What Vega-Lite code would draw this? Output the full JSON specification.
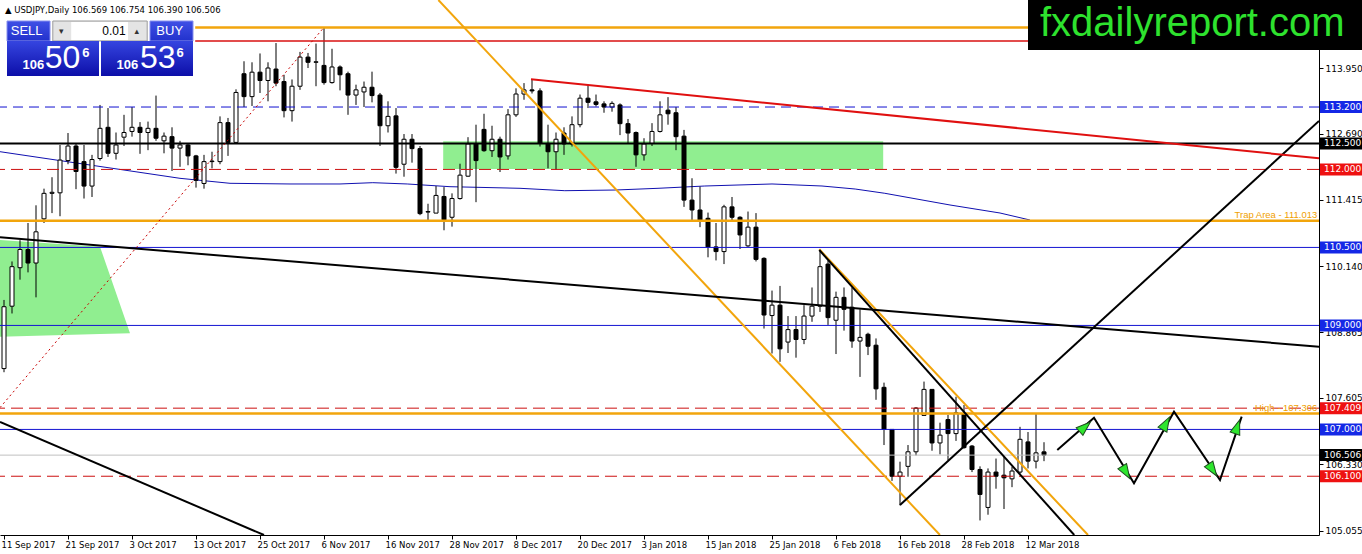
{
"$schema":"https://vega.github.io/schema/vega-lite/v6.json",
"width":1319,"height":535,
"autosize":{"type":"none"},
"padding":{"left":0,"top":0,"right":43,"bottom":19},
"background":"white",
"config":{"view":{"stroke":null},"axis":{"grid":false,"title":null},"scale":{"continuousPadding":0}},
"datasets":{
"candles":[
{"i":0,"o":108.17,"h":109.49,"l":108.10,"c":109.36},
{"i":1,"o":109.37,"h":110.23,"l":109.23,"c":110.13},
{"i":2,"o":110.11,"h":110.64,"l":109.88,"c":110.46},
{"i":3,"o":110.46,"h":110.97,"l":110.02,"c":110.20},
{"i":4,"o":110.20,"h":111.31,"l":109.54,"c":110.80},
{"i":5,"o":111.05,"h":111.63,"l":110.97,"c":111.54},
{"i":6,"o":111.54,"h":111.85,"l":111.16,"c":111.56},
{"i":7,"o":111.55,"h":112.47,"l":111.10,"c":112.18},
{"i":8,"o":112.17,"h":112.70,"l":112.10,"c":112.45},
{"i":9,"o":112.45,"h":112.50,"l":111.62,"c":111.96},
{"i":10,"o":112.15,"h":112.47,"l":111.44,"c":111.68},
{"i":11,"o":111.68,"h":112.28,"l":111.47,"c":112.19},
{"i":12,"o":112.21,"h":113.24,"l":112.17,"c":112.79},
{"i":13,"o":112.81,"h":113.18,"l":112.24,"c":112.31},
{"i":14,"o":112.31,"h":112.71,"l":112.19,"c":112.47},
{"i":15,"o":112.62,"h":113.05,"l":112.45,"c":112.71},
{"i":16,"o":112.73,"h":113.20,"l":112.63,"c":112.81},
{"i":17,"o":112.81,"h":112.91,"l":112.30,"c":112.71},
{"i":18,"o":112.71,"h":112.92,"l":112.37,"c":112.79},
{"i":19,"o":112.79,"h":113.42,"l":112.55,"c":112.60},
{"i":20,"o":112.55,"h":112.71,"l":112.31,"c":112.64},
{"i":21,"o":112.63,"h":112.81,"l":111.97,"c":112.41},
{"i":22,"o":112.41,"h":112.55,"l":112.05,"c":112.47},
{"i":23,"o":112.47,"h":112.49,"l":112.08,"c":112.26},
{"i":24,"o":112.26,"h":112.28,"l":111.65,"c":111.79},
{"i":25,"o":111.73,"h":112.28,"l":111.63,"c":112.15},
{"i":26,"o":112.15,"h":112.34,"l":112.02,"c":112.16},
{"i":27,"o":112.15,"h":113.02,"l":112.10,"c":112.90},
{"i":28,"o":112.90,"h":112.99,"l":112.26,"c":112.52},
{"i":29,"o":112.52,"h":113.54,"l":112.50,"c":113.48},
{"i":30,"o":113.84,"h":114.08,"l":113.20,"c":113.40},
{"i":31,"o":113.40,"h":114.06,"l":113.22,"c":113.87},
{"i":32,"o":113.87,"h":114.23,"l":113.47,"c":113.71},
{"i":33,"o":113.71,"h":114.06,"l":113.31,"c":113.95},
{"i":34,"o":113.93,"h":114.43,"l":113.60,"c":113.66},
{"i":35,"o":113.69,"h":113.82,"l":113.00,"c":113.13},
{"i":36,"o":113.13,"h":113.73,"l":112.92,"c":113.60},
{"i":37,"o":113.60,"h":114.26,"l":113.53,"c":114.16},
{"i":38,"o":114.16,"h":114.24,"l":113.95,"c":114.06},
{"i":39,"o":114.06,"h":114.42,"l":113.60,"c":114.07},
{"i":40,"o":114.00,"h":114.72,"l":113.63,"c":113.67},
{"i":41,"o":113.67,"h":114.32,"l":113.65,"c":113.97},
{"i":42,"o":113.97,"h":114.00,"l":113.52,"c":113.82},
{"i":43,"o":113.84,"h":113.88,"l":113.05,"c":113.43},
{"i":44,"o":113.43,"h":113.63,"l":113.24,"c":113.53},
{"i":45,"o":113.49,"h":113.69,"l":113.20,"c":113.58},
{"i":46,"o":113.58,"h":113.88,"l":113.29,"c":113.42},
{"i":47,"o":113.43,"h":113.47,"l":112.45,"c":112.84},
{"i":48,"o":112.84,"h":113.31,"l":112.71,"c":113.02},
{"i":49,"o":113.03,"h":113.18,"l":111.92,"c":112.04},
{"i":50,"o":112.10,"h":112.68,"l":111.86,"c":112.58},
{"i":51,"o":112.58,"h":112.68,"l":112.13,"c":112.40},
{"i":52,"o":112.40,"h":112.45,"l":111.12,"c":111.15},
{"i":53,"o":111.18,"h":111.34,"l":111.02,"c":111.19},
{"i":54,"o":111.16,"h":111.68,"l":111.16,"c":111.50},
{"i":55,"o":111.48,"h":111.66,"l":110.83,"c":111.03},
{"i":56,"o":111.08,"h":111.54,"l":110.90,"c":111.44},
{"i":57,"o":111.44,"h":112.11,"l":111.42,"c":111.89},
{"i":58,"o":111.87,"h":112.62,"l":111.86,"c":112.49},
{"i":59,"o":112.49,"h":112.86,"l":111.37,"c":112.17},
{"i":60,"o":112.77,"h":113.07,"l":112.34,"c":112.36},
{"i":61,"o":112.36,"h":112.84,"l":112.24,"c":112.58},
{"i":62,"o":112.58,"h":112.63,"l":111.95,"c":112.24},
{"i":63,"o":112.26,"h":113.16,"l":112.19,"c":113.05},
{"i":64,"o":113.05,"h":113.56,"l":113.01,"c":113.45},
{"i":65,"o":113.45,"h":113.66,"l":113.34,"c":113.53},
{"i":66,"o":113.53,"h":113.72,"l":113.46,"c":113.51},
{"i":67,"o":113.51,"h":113.56,"l":112.44,"c":112.50},
{"i":68,"o":112.50,"h":112.86,"l":112.02,"c":112.34},
{"i":69,"o":112.34,"h":112.71,"l":111.99,"c":112.58},
{"i":70,"o":112.70,"h":112.81,"l":112.28,"c":112.49},
{"i":71,"o":112.49,"h":113.02,"l":112.44,"c":112.86},
{"i":72,"o":112.86,"h":113.44,"l":112.81,"c":113.37},
{"i":73,"o":113.37,"h":113.63,"l":113.18,"c":113.29},
{"i":74,"o":113.30,"h":113.44,"l":113.21,"c":113.25},
{"i":75,"o":113.26,"h":113.31,"l":113.09,"c":113.20},
{"i":76,"o":113.20,"h":113.31,"l":113.11,"c":113.27},
{"i":77,"o":113.24,"h":113.27,"l":112.66,"c":112.88},
{"i":78,"o":112.88,"h":112.97,"l":112.49,"c":112.70},
{"i":79,"o":112.71,"h":112.73,"l":112.05,"c":112.28},
{"i":80,"o":112.28,"h":112.60,"l":112.17,"c":112.49},
{"i":81,"o":112.50,"h":112.89,"l":112.45,"c":112.73},
{"i":82,"o":112.73,"h":113.31,"l":112.71,"c":113.05},
{"i":83,"o":113.14,"h":113.39,"l":112.86,"c":113.07},
{"i":84,"o":113.09,"h":113.20,"l":112.37,"c":112.63},
{"i":85,"o":112.64,"h":112.76,"l":111.28,"c":111.41},
{"i":86,"o":111.41,"h":111.83,"l":111.02,"c":111.22},
{"i":87,"o":111.22,"h":111.67,"l":110.89,"c":111.02},
{"i":88,"o":111.06,"h":111.17,"l":110.31,"c":110.51},
{"i":89,"o":110.51,"h":110.97,"l":110.25,"c":110.42},
{"i":90,"o":110.42,"h":111.32,"l":110.18,"c":111.28},
{"i":91,"o":111.28,"h":111.47,"l":111.02,"c":111.08},
{"i":92,"o":111.08,"h":111.10,"l":110.47,"c":110.74},
{"i":93,"o":110.53,"h":111.19,"l":110.51,"c":110.89},
{"i":94,"o":110.89,"h":111.16,"l":110.23,"c":110.27},
{"i":95,"o":110.29,"h":110.31,"l":108.94,"c":109.20},
{"i":96,"o":109.19,"h":109.67,"l":108.46,"c":109.39},
{"i":97,"o":109.39,"h":109.76,"l":108.30,"c":108.55},
{"i":98,"o":108.68,"h":109.18,"l":108.47,"c":108.92},
{"i":99,"o":108.92,"h":109.18,"l":108.38,"c":108.73},
{"i":100,"o":108.73,"h":109.39,"l":108.64,"c":109.18},
{"i":101,"o":109.18,"h":109.73,"l":109.07,"c":109.37},
{"i":102,"o":109.37,"h":110.45,"l":109.26,"c":110.13},
{"i":103,"o":110.18,"h":110.25,"l":109.01,"c":109.15},
{"i":104,"o":109.10,"h":109.65,"l":108.45,"c":109.54},
{"i":105,"o":109.54,"h":109.73,"l":108.90,"c":109.31},
{"i":106,"o":109.35,"h":109.73,"l":108.57,"c":108.70},
{"i":107,"o":108.70,"h":109.31,"l":108.01,"c":108.77},
{"i":108,"o":108.83,"h":108.86,"l":108.43,"c":108.60},
{"i":109,"o":108.62,"h":108.75,"l":107.57,"c":107.78},
{"i":110,"o":107.81,"h":107.90,"l":106.70,"c":107.00},
{"i":111,"o":107.00,"h":107.00,"l":106.01,"c":106.10},
{"i":112,"o":106.10,"h":106.38,"l":105.54,"c":106.18},
{"i":113,"o":106.29,"h":106.70,"l":106.09,"c":106.57},
{"i":114,"o":106.57,"h":107.43,"l":106.50,"c":107.41},
{"i":115,"o":107.27,"h":107.92,"l":107.26,"c":107.77},
{"i":116,"o":107.77,"h":107.77,"l":106.59,"c":106.74},
{"i":117,"o":106.74,"h":107.13,"l":106.52,"c":106.89},
{"i":118,"o":107.19,"h":107.28,"l":106.41,"c":106.92},
{"i":119,"o":106.92,"h":107.63,"l":106.78,"c":107.32},
{"i":120,"o":107.30,"h":107.47,"l":106.63,"c":106.65},
{"i":121,"o":106.68,"h":106.70,"l":106.18,"c":106.23},
{"i":122,"o":106.23,"h":106.29,"l":105.25,"c":105.75},
{"i":123,"o":105.50,"h":106.25,"l":105.36,"c":106.18},
{"i":124,"o":106.18,"h":106.44,"l":105.86,"c":106.10},
{"i":125,"o":106.12,"h":106.47,"l":105.47,"c":106.07},
{"i":126,"o":106.05,"h":106.28,"l":105.89,"c":106.20},
{"i":127,"o":106.18,"h":107.05,"l":106.15,"c":106.81},
{"i":128,"o":106.76,"h":106.95,"l":106.25,"c":106.39},
{"i":129,"o":106.39,"h":107.306,"l":106.25,"c":106.55},
{"i":130,"o":106.569,"h":106.754,"l":106.390,"c":106.506}
],
"ma":[{"i":-0.5,"p":112.341},{"i":7,"p":112.17},{"i":14.5,"p":112.0},{"i":22,"p":111.829},{"i":28.25,"p":111.733},{"i":35.75,"p":111.72},{"i":42,"p":111.72},{"i":46.1,"p":111.745},{"i":50.4,"p":111.72},{"i":55.75,"p":111.668},{"i":64.5,"p":111.637},{"i":70.1,"p":111.591},{"i":76.4,"p":111.604},{"i":81.75,"p":111.637},{"i":87.6,"p":111.681},{"i":96,"p":111.72},{"i":102.25,"p":111.681},{"i":106.4,"p":111.623},{"i":110.1,"p":111.541},{"i":118.25,"p":111.316},{"i":124.5,"p":111.162},{"i":128.25,"p":111.027}],
"greenPoly":[{"i":-0.5,"top":110.643,"bot":108.783},{"i":12,"top":110.514,"bot":108.833},{"i":15.75,"top":108.848,"bot":108.848}],
"greenRect":[{"i1":54.9,"i2":109.9,"p1":112.54,"p2":112.01}],
"lvBlueDash":[{"p":113.2}],
"lvBlack":[{"p":112.5}],
"lvRedDash":[{"p":112.0},{"p":107.409},{"p":106.1}],
"lvOrange":[{"p":111.013},{"p":107.306}],
"lvBlue":[{"p":110.5},{"p":109.0},{"p":107.0}],
"lvGray":[{"p":106.506}],
"topOrange":[{"i1":23.9,"i2":164.375,"p":114.73}],
"topRed":[{"i1":23.9,"i2":164.375,"p":114.47}],
"orangeDiag":[{"seg":1,"i":54.3,"p":115.258},{"seg":1,"i":116.99,"p":104.97},{"seg":2,"i":101.91,"p":110.464},{"seg":2,"i":135.5,"p":104.97}],
"blackDiag":[{"seg":1,"i":101.91,"p":110.45},{"seg":1,"i":133.78,"p":104.97},{"seg":2,"i":112,"p":105.546},{"seg":2,"i":164.375,"p":112.931},{"seg":3,"i":-0.5,"p":110.695},{"seg":3,"i":164.375,"p":108.59},{"seg":4,"i":-0.5,"p":107.143},{"seg":4,"i":32.5,"p":104.97}],
"redDiag":[{"i":65.875,"p":113.733},{"i":164.375,"p":112.214}],
"redDotted":[{"i":-0.5,"p":107.42},{"i":39.9,"p":114.714}],
"zigzag":[{"i":131.66,"p":106.604},{"i":136.25,"p":107.225},{"i":141.25,"p":105.964},{"i":146.25,"p":107.341},{"i":152.0,"p":106.027},{"i":154.71,"p":107.245}],
"arrows":[{"i":135.125,"p":107.052,"dir":48.6},{"i":140.25,"p":106.175,"dir":148.6},{"i":145.25,"p":107.118,"dir":29.2},{"i":151.09,"p":106.22,"dir":146},{"i":154.16,"p":107.052,"dir":18.9}],
"notes":[{"i":164.16,"p":111.114,"t":"Trap Area - 111.013"},{"i":164.16,"p":107.421,"t":"High - 107.306"}],
"header":[{"i":0.125,"p":115.066,"t":"▲ USDJPY,Daily 106.569 106.754 106.390 106.506"}],
"panelCtl":[{"i1":6.1,"i2":17.9,"p1":114.854,"p2":114.47}],
"panelField":[{"i1":8.4,"i2":15.5,"p1":114.835,"p2":114.49}],
"panelBtn":[{"i1":0.375,"i2":5.75,"p1":114.854,"p2":114.47},{"i1":18.25,"i2":23.625,"p1":114.854,"p2":114.47}],
"panelBox":[{"i1":0.375,"i2":11.875,"p1":114.47,"p2":113.796},{"i1":12.125,"i2":23.625,"p1":114.47,"p2":113.796}],
"panelBtnText":[{"i":2.83,"p":114.662,"t":"SELL"},{"i":20.71,"p":114.662,"t":"BUY"}],
"panelFieldText":[{"i":15.2,"p":114.662,"t":"0.01"}],
"panelArrowText":[{"i":7.17,"p":114.662,"t":"▾"},{"i":16.6,"p":114.662,"t":"▴"}],
"priceSmall":[{"i":3.67,"p":114.008,"t":"106"},{"i":15.41,"p":114.008,"t":"106"}],
"priceBig":[{"i":7.31,"p":114.137,"t":"50"},{"i":19.23,"p":114.137,"t":"53"}],
"priceSup":[{"i":10.23,"p":114.248,"t":"6"},{"i":22.02,"p":114.248,"t":"6"}],
"wmBox":[{"i1":128,"i2":169.75,"p1":115.258,"p2":114.296}],
"wmText":[{"i":129.5,"p":114.566,"t":"fxdailyreport.com"}],
"boxBlue":[{"p":113.2},{"p":110.5},{"p":109.0},{"p":107.0}],
"boxBlack":[{"p":112.5},{"p":106.506}],
"boxRed":[{"p":112.0},{"p":107.409},{"p":106.1}]
},
"layer":[
{"data":{"name":"greenPoly"},"mark":{"type":"area","color":"#90ee90","opacity":1},
 "encoding":{
  "x":{"field":"i","type":"quantitative","scale":{"domain":[-0.5,164.375],"nice":false,"zero":false,"padding":0},
   "axis":{"values":[0,8,16,24,32,40,48,56,64,72,80,88,96,104,112,120,128],
    "labelExpr":"['11 Sep 2017','21 Sep 2017','3 Oct 2017','13 Oct 2017','25 Oct 2017','6 Nov 2017','16 Nov 2017','28 Nov 2017','8 Dec 2017','20 Dec 2017','3 Jan 2018','15 Jan 2018','25 Jan 2018','6 Feb 2018','16 Feb 2018','28 Feb 2018','12 Mar 2018'][round(datum.value/8)]",
    "labelAlign":"left","labelBaseline":"top","labelPadding":1,"labelOffset":-3,"labelFont":"DejaVu Sans","labelFontSize":8.5,"labelColor":"#000","tickColor":"#000","tickSize":4,"domainColor":"#000","labelOverlap":false,"labelFlush":false,"labelBound":false,"title":null,"grid":false}},
  "y":{"field":"top","type":"quantitative","scale":{"domain":[104.97,115.258],"nice":false,"zero":false,"padding":0},
   "axis":{"orient":"right","values":[113.95,113.32,112.69,112.06,111.415,110.77,110.14,109.51,108.865,108.235,107.605,106.96,106.33,105.685,105.055],"format":".3f","labelFont":"DejaVu Sans","labelFontSize":9,"labelColor":"#000","tickColor":"#000","tickSize":4,"domainColor":"#000","labelPadding":2,"labelOverlap":false,"labelFlush":false,"labelBound":false,"title":null,"grid":false}},
  "y2":{"field":"bot"}}},
{"data":{"name":"greenRect"},"mark":{"type":"rect","color":"#90ee90"},
 "encoding":{"x":{"field":"i1","type":"quantitative"},"x2":{"field":"i2"},"y":{"field":"p1","type":"quantitative"},"y2":{"field":"p2"}}},
{"data":{"name":"ma"},"mark":{"type":"line","color":"#1010b0","strokeWidth":1,"clip":true},
 "encoding":{"x":{"field":"i","type":"quantitative"},"y":{"field":"p","type":"quantitative"}}},
{"data":{"name":"candles"},"mark":{"type":"rule","color":"#000","strokeWidth":1},
 "encoding":{"x":{"field":"i","type":"quantitative"},"y":{"field":"l","type":"quantitative"},"y2":{"field":"h"}}},
{"data":{"name":"candles"},"mark":{"type":"bar","size":4,"stroke":"#000","strokeWidth":1},
 "encoding":{"x":{"field":"i","type":"quantitative"},"y":{"field":"o","type":"quantitative"},"y2":{"field":"c"},
  "fill":{"condition":{"test":"datum.c >= datum.o","value":"#ffffff"},"value":"#000000"}}},
{"data":{"name":"lvGray"},"mark":{"type":"rule","color":"#c0c0c0","strokeWidth":1},"encoding":{"y":{"field":"p","type":"quantitative"}}},
{"data":{"name":"lvBlueDash"},"mark":{"type":"rule","color":"#1010d0","strokeWidth":1,"strokeDash":[10,6]},"encoding":{"y":{"field":"p","type":"quantitative"}}},
{"data":{"name":"lvBlack"},"mark":{"type":"rule","color":"#000000","strokeWidth":2},"encoding":{"y":{"field":"p","type":"quantitative"}}},
{"data":{"name":"lvRedDash"},"mark":{"type":"rule","color":"#cc1010","strokeWidth":1,"strokeDash":[12,6]},"encoding":{"y":{"field":"p","type":"quantitative"}}},
{"data":{"name":"lvOrange"},"mark":{"type":"rule","color":"#f2a50c","strokeWidth":2.5},"encoding":{"y":{"field":"p","type":"quantitative"}}},
{"data":{"name":"lvBlue"},"mark":{"type":"rule","color":"#1414d2","strokeWidth":1},"encoding":{"y":{"field":"p","type":"quantitative"}}},
{"data":{"name":"topOrange"},"mark":{"type":"rule","color":"#f2a50c","strokeWidth":2.5},
 "encoding":{"x":{"field":"i1","type":"quantitative"},"x2":{"field":"i2"},"y":{"field":"p","type":"quantitative"}}},
{"data":{"name":"topRed"},"mark":{"type":"rule","color":"#d81010","strokeWidth":1.5},
 "encoding":{"x":{"field":"i1","type":"quantitative"},"x2":{"field":"i2"},"y":{"field":"p","type":"quantitative"}}},
{"data":{"name":"redDotted"},"mark":{"type":"line","color":"#c80000","strokeWidth":1,"strokeDash":[2,3],"clip":true},
 "encoding":{"x":{"field":"i","type":"quantitative"},"y":{"field":"p","type":"quantitative"}}},
{"data":{"name":"orangeDiag"},"mark":{"type":"line","color":"#f2a50c","strokeWidth":2,"clip":true},
 "encoding":{"x":{"field":"i","type":"quantitative"},"y":{"field":"p","type":"quantitative"},"detail":{"field":"seg","type":"nominal"}}},
{"data":{"name":"blackDiag"},"mark":{"type":"line","color":"#000000","strokeWidth":2,"clip":true},
 "encoding":{"x":{"field":"i","type":"quantitative"},"y":{"field":"p","type":"quantitative"},"detail":{"field":"seg","type":"nominal"}}},
{"data":{"name":"redDiag"},"mark":{"type":"line","color":"#e01010","strokeWidth":2,"clip":true},
 "encoding":{"x":{"field":"i","type":"quantitative"},"y":{"field":"p","type":"quantitative"}}},
{"data":{"name":"zigzag"},"mark":{"type":"line","color":"#000000","strokeWidth":2},
 "encoding":{"x":{"field":"i","type":"quantitative"},"y":{"field":"p","type":"quantitative"}}},
{"data":{"name":"arrows"},"mark":{"type":"point","shape":"M0,-1L0.7,1L-0.7,1Z","filled":true,"fill":"#2ee62e","stroke":"#1d4d1d","strokeWidth":1,"opacity":1,"size":210},
 "encoding":{"x":{"field":"i","type":"quantitative"},"y":{"field":"p","type":"quantitative"},"angle":{"field":"dir","type":"quantitative","scale":null}}},
{"data":{"name":"notes"},"mark":{"type":"text","color":"#f0a000","font":"Liberation Sans","fontSize":9.5,"align":"right","baseline":"middle"},
 "encoding":{"x":{"field":"i","type":"quantitative"},"y":{"field":"p","type":"quantitative"},"text":{"field":"t"}}},
{"data":{"name":"header"},"mark":{"type":"text","color":"#000","font":"DejaVu Sans","fontSize":8.5,"align":"left","baseline":"middle"},
 "encoding":{"x":{"field":"i","type":"quantitative"},"y":{"field":"p","type":"quantitative"},"text":{"field":"t"}}},
{"data":{"name":"panelCtl"},"mark":{"type":"rect","fill":"#e4e4e4","stroke":"#9a9a9a","strokeWidth":1},
 "encoding":{"x":{"field":"i1","type":"quantitative"},"x2":{"field":"i2"},"y":{"field":"p1","type":"quantitative"},"y2":{"field":"p2"}}},
{"data":{"name":"panelField"},"mark":{"type":"rect","fill":"#ffffff"},
 "encoding":{"x":{"field":"i1","type":"quantitative"},"x2":{"field":"i2"},"y":{"field":"p1","type":"quantitative"},"y2":{"field":"p2"}}},
{"data":{"name":"panelBtn"},"mark":{"type":"rect","stroke":"#8890ee","strokeWidth":1,"fill":{"gradient":"linear","x1":0,"y1":0,"x2":0,"y2":1,"stops":[{"offset":0,"color":"#4050e6"},{"offset":1,"color":"#2232cc"}]}},
 "encoding":{"x":{"field":"i1","type":"quantitative"},"x2":{"field":"i2"},"y":{"field":"p1","type":"quantitative"},"y2":{"field":"p2"}}},
{"data":{"name":"panelBox"},"mark":{"type":"rect","fill":{"gradient":"linear","x1":0,"y1":0,"x2":0,"y2":1,"stops":[{"offset":0,"color":"#3545e0"},{"offset":1,"color":"#0c0ea8"}]}},
 "encoding":{"x":{"field":"i1","type":"quantitative"},"x2":{"field":"i2"},"y":{"field":"p1","type":"quantitative"},"y2":{"field":"p2"}}},
{"data":{"name":"panelBtnText"},"mark":{"type":"text","color":"#ffffff","font":"Liberation Sans","fontSize":13,"align":"center","baseline":"middle"},
 "encoding":{"x":{"field":"i","type":"quantitative"},"y":{"field":"p","type":"quantitative"},"text":{"field":"t"}}},
{"data":{"name":"panelFieldText"},"mark":{"type":"text","color":"#000000","font":"Liberation Sans","fontSize":12,"align":"right","baseline":"middle"},
 "encoding":{"x":{"field":"i","type":"quantitative"},"y":{"field":"p","type":"quantitative"},"text":{"field":"t"}}},
{"data":{"name":"panelArrowText"},"mark":{"type":"text","color":"#333333","font":"DejaVu Sans","fontSize":9,"align":"center","baseline":"middle"},
 "encoding":{"x":{"field":"i","type":"quantitative"},"y":{"field":"p","type":"quantitative"},"text":{"field":"t"}}},
{"data":{"name":"priceSmall"},"mark":{"type":"text","color":"#ffffff","font":"Liberation Sans","fontSize":13,"fontWeight":"bold","align":"center","baseline":"middle"},
 "encoding":{"x":{"field":"i","type":"quantitative"},"y":{"field":"p","type":"quantitative"},"text":{"field":"t"}}},
{"data":{"name":"priceBig"},"mark":{"type":"text","color":"#ffffff","font":"Liberation Sans","fontSize":32,"align":"center","baseline":"middle"},
 "encoding":{"x":{"field":"i","type":"quantitative"},"y":{"field":"p","type":"quantitative"},"text":{"field":"t"}}},
{"data":{"name":"priceSup"},"mark":{"type":"text","color":"#ffffff","font":"Liberation Sans","fontSize":13,"fontWeight":"bold","align":"center","baseline":"middle"},
 "encoding":{"x":{"field":"i","type":"quantitative"},"y":{"field":"p","type":"quantitative"},"text":{"field":"t"}}},
{"data":{"name":"wmBox"},"mark":{"type":"rect","fill":"#000000","clip":false},
 "encoding":{"x":{"field":"i1","type":"quantitative"},"x2":{"field":"i2"},"y":{"field":"p1","type":"quantitative"},"y2":{"field":"p2"}}},
{"data":{"name":"wmText"},"mark":{"type":"text","color":"#2ee22e","font":"Liberation Sans","fontSize":40,"align":"left","baseline":"alphabetic","clip":false},
 "encoding":{"x":{"field":"i","type":"quantitative"},"y":{"field":"p","type":"quantitative"},"text":{"field":"t"}}},
{"data":{"name":"boxBlue"},"mark":{"type":"bar","color":"#1428e6","size":12,"clip":false},
 "encoding":{"x":{"datum":164.5,"type":"quantitative"},"x2":{"datum":169.75},"y":{"field":"p","type":"quantitative"}}},
{"data":{"name":"boxBlack"},"mark":{"type":"bar","color":"#000000","size":12,"clip":false},
 "encoding":{"x":{"datum":164.5,"type":"quantitative"},"x2":{"datum":169.75},"y":{"field":"p","type":"quantitative"}}},
{"data":{"name":"boxRed"},"mark":{"type":"bar","color":"#ee1111","size":12,"clip":false},
 "encoding":{"x":{"datum":164.5,"type":"quantitative"},"x2":{"datum":169.75},"y":{"field":"p","type":"quantitative"}}},
{"data":{"name":"boxBlue"},"mark":{"type":"text","color":"#ffffff","font":"DejaVu Sans","fontSize":9,"align":"left","baseline":"middle","clip":false},
 "encoding":{"x":{"datum":165.0,"type":"quantitative"},"y":{"field":"p","type":"quantitative"},"text":{"field":"p","type":"quantitative","format":".3f"}}},
{"data":{"name":"boxBlack"},"mark":{"type":"text","color":"#ffffff","font":"DejaVu Sans","fontSize":9,"align":"left","baseline":"middle","clip":false},
 "encoding":{"x":{"datum":165.0,"type":"quantitative"},"y":{"field":"p","type":"quantitative"},"text":{"field":"p","type":"quantitative","format":".3f"}}},
{"data":{"name":"boxRed"},"mark":{"type":"text","color":"#ffffff","font":"DejaVu Sans","fontSize":9,"align":"left","baseline":"middle","clip":false},
 "encoding":{"x":{"datum":165.0,"type":"quantitative"},"y":{"field":"p","type":"quantitative"},"text":{"field":"p","type":"quantitative","format":".3f"}}},
{"mark":{"type":"rule","color":"#000000","strokeWidth":1},"encoding":{"x":{"datum":-0.25,"type":"quantitative"}}}
]
}
